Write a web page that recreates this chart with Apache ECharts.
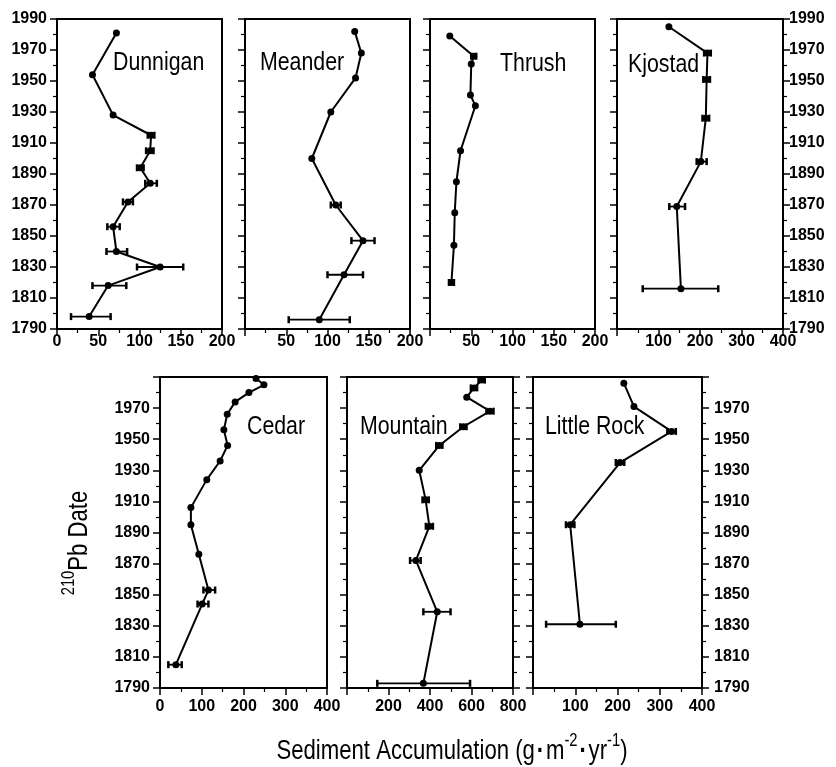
<!DOCTYPE html>
<html>
<head>
<meta charset="utf-8">
<script src="https://cdn.jsdelivr.net/npm/echarts@6/dist/echarts.min.js"></script>
<style>html,body{margin:0;padding:0;background:#fff;}#c{width:836px;height:767px;}</style>
</head>
<body>
<div id="c"></div>
<script>
// ---- data ----
const yearTicksMin = 1790, yearTicksMax = 1990;

const dunniganYear = [1981, 1954, 1928, 1915, 1905, 1894, 1884, 1872, 1856, 1840, 1830, 1818, 1798];
const dunniganVal  = [72, 43, 68, 114, 113, 101, 113, 86, 68, 72, 125, 62, 39];
const dunniganLo   = [null, null, null, 110, 108, 97, 107, 80, 61, 60, 97, 43, 17];
const dunniganHi   = [null, null, null, 118, 117, 105, 121, 92, 76, 85, 153, 84, 65];

const meanderYear = [1982, 1968, 1952, 1930, 1900, 1870, 1847, 1825, 1796];
const meanderVal  = [133, 141, 134, 104, 81, 110, 143, 120, 90];
const meanderLo   = [null, null, null, null, null, 104, 129, 100, 53];
const meanderHi   = [null, null, null, null, null, 116, 157, 143, 127];

const thrushYear = [1979, 1966, 1961, 1941, 1934, 1905, 1885, 1865, 1844, 1820];
const thrushVal  = [24, 53, 50, 49, 55, 37, 32, 30, 29, 26];
const thrushLo   = [null, 50, null, null, null, null, null, null, null, 23];
const thrushHi   = [null, 56, null, null, null, null, null, null, null, 29];

const kjostadYear = [1985, 1968, 1951, 1926, 1898, 1869, 1816];
const kjostadVal  = [125, 218, 216, 214, 202, 144, 154];
const kjostadLo   = [null, 210, 208, 206, 192, 126, 62];
const kjostadHi   = [null, 226, 224, 222, 216, 164, 244];

const cedarYear = [1989, 1985, 1980, 1974, 1966, 1956, 1946, 1936, 1924, 1906, 1895, 1876, 1853, 1844, 1805];
const cedarVal  = [230, 249, 213, 180, 161, 153, 162, 144, 112, 74, 74, 93, 116, 101, 38];
const cedarLo   = [null, null, null, null, null, null, null, null, null, null, null, null, 104, 90, 20];
const cedarHi   = [null, null, null, null, null, null, null, null, null, null, null, null, 132, 116, 52];

const mountainYear = [1988, 1983, 1977, 1968, 1958, 1946, 1930, 1911, 1894, 1872, 1839, 1793];
const mountainVal  = [649, 612, 577, 689, 561, 445, 348, 379, 397, 332, 435, 368];
const mountainLo   = [634, 597, null, 672, 546, 430, null, 364, 380, 304, 368, 146];
const mountainHi   = [664, 627, null, 706, 576, 460, null, 394, 414, 355, 499, 593];

const littleRockYear = [1986, 1971, 1955, 1935, 1895, 1831];
const littleRockVal  = [215, 239, 328, 206, 88, 111];
const littleRockLo   = [null, null, 318, 196, 78, 31];
const littleRockHi   = [null, null, 338, 216, 98, 196];

const panelNames = ['Dunnigan', 'Meander', 'Thrush', 'Kjostad', 'Cedar', 'Mountain', 'Little Rock'];
const xMax       = [200, 200, 200, 400, 400, 800, 400];
const xInterval  = [50, 50, 50, 100, 100, 200, 100];

// ---- layout ----
const grids = [
  {left: 57,  top: 19,  width: 165, height: 310},
  {left: 245, top: 19,  width: 165, height: 310},
  {left: 430, top: 19,  width: 165, height: 310},
  {left: 617, top: 19,  width: 166, height: 310},
  {left: 160, top: 377, width: 167, height: 311},
  {left: 347, top: 377, width: 166, height: 311},
  {left: 533, top: 377, width: 169, height: 311}
];
const namePos = [[113, 63], [260, 63], [500, 64], [628, 65], [247, 427], [360, 427], [545, 427]];

// pick a narrow face if it is installed, else fall back to Liberation Sans
function fontWidth(f) {
  const c = document.createElement('canvas').getContext('2d');
  c.font = '40px ' + f;
  return c.measureText('1990 Sediment').width;
}
const hasNarrow = fontWidth('"Liberation Sans Narrow", monospace') !== fontWidth('monospace');
const FONT = hasNarrow ? '"Liberation Sans Narrow"' : '"Liberation Sans"';
const TICK_SIZE = hasNarrow ? 19 : 16;
const SQUEEZE = hasNarrow ? 1 : 0.82;

const panels = [
  [dunniganYear, dunniganVal, dunniganLo, dunniganHi],
  [meanderYear, meanderVal, meanderLo, meanderHi],
  [thrushYear, thrushVal, thrushLo, thrushHi],
  [kjostadYear, kjostadVal, kjostadLo, kjostadHi],
  [cedarYear, cedarVal, cedarLo, cedarHi],
  [mountainYear, mountainVal, mountainLo, mountainHi],
  [littleRockYear, littleRockVal, littleRockLo, littleRockHi]
];

const axisLineStyle = {color: '#000', width: 2};
const labelStyle = {color: '#000', fontFamily: FONT.replace(/"/g, ''), fontSize: TICK_SIZE, fontWeight: 'bold'};
const tickStyle = {show: true, length: 7, lineStyle: {color: '#000', width: 1.5}};
const minorStyle = {show: true, splitNumber: 2, length: 4, lineStyle: {color: '#000', width: 1.2}};

const xAxis = [], yAxis = [], series = [], graphic = [];
panels.forEach((p, i) => {
  const showZero = (i === 0 || i === 4);
  xAxis.push({
    type: 'value', gridIndex: i, min: 0, max: xMax[i], interval: xInterval[i],
    axisLine: {show: true, lineStyle: axisLineStyle},
    axisTick: tickStyle, minorTick: minorStyle,
    splitLine: {show: false},
    axisLabel: Object.assign({}, labelStyle, {
      margin: i < 4 ? 5 : 11,
      formatter: v => (v === 0 && !showZero) ? '' : String(v)
    })
  });
  const showLeftLabels = (i === 0 || i === 4);
  yAxis.push({
    type: 'value', gridIndex: i, min: yearTicksMin, max: yearTicksMax, interval: 20,
    position: 'left',
    axisLine: {show: true, lineStyle: axisLineStyle},
    axisTick: tickStyle, minorTick: minorStyle,
    splitLine: {show: false},
    axisLabel: Object.assign({}, labelStyle, {
      show: showLeftLabels, margin: 10,
      formatter: v => (i >= 4 && v === 1990) ? '' : String(v)
    })
  });
  grids[i].show = true;
  grids[i].borderColor = '#000';
  grids[i].borderWidth = 2;
});
// right-side axes: Kjostad and Little Rock labelled, Mountain ticks only
[[3, 6, true], [6, 12, true], [5, 6, false]].forEach(([gi, mg, lab]) => {
  yAxis.push({
    type: 'value', gridIndex: gi, min: yearTicksMin, max: yearTicksMax, interval: 20,
    position: 'right',
    axisLine: {show: true, lineStyle: axisLineStyle},
    axisTick: tickStyle, minorTick: minorStyle,
    splitLine: {show: false},
    axisLabel: Object.assign({}, labelStyle, {
      show: lab, margin: mg,
      formatter: v => (gi >= 4 && v === 1990) ? '' : String(v)
    })
  });
});

panels.forEach((p, i) => {
  const [yr, val, lo, hi] = p;
  const errData = [];
  yr.forEach((y, k) => { if (lo[k] != null) errData.push([lo[k], hi[k], y]); });
  series.push({
    type: 'custom', xAxisIndex: i, yAxisIndex: i, data: errData, z: 2,
    encode: {x: [0, 1], y: 2},
    renderItem: function (params, api) {
      const a = api.coord([api.value(0), api.value(2)]);
      const b = api.coord([api.value(1), api.value(2)]);
      const h = 3.5;
      const st = {stroke: '#000', lineWidth: 1.8};
      return {type: 'group', children: [
        {type: 'line', shape: {x1: a[0], y1: a[1], x2: b[0], y2: b[1]}, style: st},
        {type: 'line', shape: {x1: a[0], y1: a[1] - h, x2: a[0], y2: a[1] + h}, style: {stroke: '#000', lineWidth: 2.5}},
        {type: 'line', shape: {x1: b[0], y1: b[1] - h, x2: b[0], y2: b[1] + h}, style: {stroke: '#000', lineWidth: 2.5}}
      ]};
    }
  });
  series.push({
    type: 'line', xAxisIndex: i, yAxisIndex: i, z: 3,
    data: yr.map((y, k) => [val[k], y]),
    symbol: 'circle', symbolSize: 7, showSymbol: true,
    itemStyle: {color: '#000'},
    lineStyle: {color: '#000', width: 2}
  });
  graphic.push({
    type: 'text', x: namePos[i][0], y: namePos[i][1], scaleX: SQUEEZE,
    style: {text: panelNames[i], fill: '#000', font: '26px ' + FONT, align: 'left', verticalAlign: 'middle'}
  });
});

const titleRich = {
  n: {fontFamily: FONT.replace(/"/g, ''), fontSize: 27, fill: '#000', color: '#000', verticalAlign: 'bottom', lineHeight: 33},
  d: {fontFamily: FONT.replace(/"/g, ''), fontSize: 27, fontWeight: 'bold', fill: '#000', color: '#000', verticalAlign: 'bottom', lineHeight: 33},
  s: {fontFamily: FONT.replace(/"/g, ''), fontSize: 18, fill: '#000', color: '#000', verticalAlign: 'top', lineHeight: 33}
};
graphic.push({
  type: 'text', x: 77, y: 543, rotation: Math.PI / 2, scaleX: SQUEEZE,
  style: {text: '{s|210}{n|Pb Date}', align: 'center', verticalAlign: 'middle', rich: titleRich}
});
graphic.push({
  type: 'text', x: 452, y: 749, scaleX: SQUEEZE,
  style: {
    text: '{n|Sediment Accumulation (g}{d|\u200a\u00b7\u200a}{n|m}{s|-2}{d|\u200a\u00b7\u200a}{n|yr}{s|-1}{n|)}',
    align: 'center', verticalAlign: 'middle', rich: titleRich
  }
});

const chart = echarts.init(document.getElementById('c'), null, {renderer: 'canvas'});
chart.setOption({
  animation: false,
  backgroundColor: '#fff',
  grid: grids, xAxis: xAxis, yAxis: yAxis, series: series, graphic: graphic
});
</script>
</body>
</html>
